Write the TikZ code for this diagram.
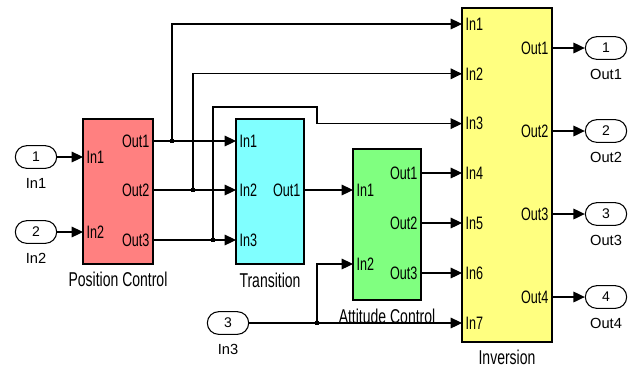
\documentclass[tikz,border=0pt]{standalone}
\usepackage{fontspec}
\setmainfont{Liberation Sans}
\newfontfamily\narrowsf[FakeStretch=0.7]{Liberation Sans}
\usetikzlibrary{arrows.meta, fit}
\definecolor{blkred}{HTML}{FF8080}
\definecolor{blkcyan}{HTML}{80FFFF}
\definecolor{blkgreen}{HTML}{80FF80}
\definecolor{blkyellow}{HTML}{FFFF80}

\begin{document}
\begin{tikzpicture}[
    x=0.75pt, y=-0.75pt,
    block/.style={draw, line width=2pt, inner sep=0pt},
    port/.style={draw, line width=0.8pt, minimum width=31pt, minimum height=17pt,
        rounded corners=8.5pt, inner sep=0pt, font=\fontsize{10.5}{12}\selectfont},
    sig/.style={line width=0.8pt, -{Triangle[length=8.5pt, width=8pt]}},
    pinlabel/.style={font=\narrowsf\fontsize{13.5}{15}\selectfont, inner sep=2.5pt},
    blocktitle/.style={font=\narrowsf\fontsize{15}{17}\selectfont, anchor=north},
    plabel/.style={font=\fontsize{11}{12}\selectfont, anchor=north},
    junction/.style={fill, inner sep=0pt, minimum size=3pt},
]
    \useasboundingbox (0,0) rectangle (635,369);

    % blocks
    \node[block, fill=blkred, fit={(83,119) (153,264)}] (pc) {};
    \node[block, fill=blkcyan, fit={(236,119) (304,264)}] (tr) {};
    \node[block, fill=blkgreen, fit={(353,149) (421,300)}] (ac) {};
    \node[block, fill=blkyellow, fit={(462,8) (552,342)}] (inv) {};

    \node[blocktitle] (pc-t) at ([yshift=-1.5pt]pc.south) {Position Control};
    \node[blocktitle] (tr-t) at ([yshift=-2pt]tr.south) {Transition};
    \node[blocktitle] (ac-t) at ([yshift=-2.5pt]ac.south) {Attitude Control};
    \node[blocktitle] (inv-t) at ([yshift=-1.5pt]inv.south) {Inversion};

    % block pins
    \foreach \i/\y in {1/157, 2/232} {
        \coordinate (pc-i\i) at (83,\y);
        \node[pinlabel, anchor=west] (pc-li\i) at (pc-i\i) {In\i};
    }
    \foreach \i/\y in {1/141, 2/190, 3/240} {
        \coordinate (pc-o\i) at (153,\y);
        \node[pinlabel, anchor=east] (pc-lo\i) at (pc-o\i) {Out\i};
        \coordinate (tr-i\i) at (236,\y);
        \node[pinlabel, anchor=west] (tr-li\i) at (tr-i\i) {In\i};
    }
    \coordinate (tr-o1) at (304,190);
    \node[pinlabel, anchor=east] (tr-lo1) at (tr-o1) {Out1};
    \foreach \i/\y in {1/190, 2/264} {
        \coordinate (ac-i\i) at (353,\y);
        \node[pinlabel, anchor=west] (ac-li\i) at (ac-i\i) {In\i};
    }
    \foreach \i/\y in {1/173, 2/223, 3/273} {
        \coordinate (ac-o\i) at (421,\y);
        \node[pinlabel, anchor=east] (ac-lo\i) at (ac-o\i) {Out\i};
    }
    \foreach \i/\y in {1/24, 2/73.8, 3/123.6, 4/173, 5/223, 6/273, 7/323} {
        \coordinate (inv-i\i) at (462,\y);
        \node[pinlabel, anchor=west] (inv-li\i) at (inv-i\i) {In\i};
    }

    % outports
    \foreach \i/\y in {1/48, 2/131, 3/214, 4/297} {
        \coordinate (inv-o\i) at (552,\y);
        \node[pinlabel, anchor=east] (inv-lo\i) at (inv-o\i) {Out\i};
        \node[port] (out\i) at (606,\y) {\i};
        \node[plabel] (out\i-l) at ([yshift=-3.5pt]out\i.south) {Out\i};
        \draw[sig] (inv-o\i) -- (out\i);
    }

    % inports
    \node[port] (in1) at (36,157) {1};
    \node[port] (in2) at (36,232) {2};
    \node[port] (in3) at (228,323) {3};
    \foreach \i in {1,2,3}
        \node[plabel] (in\i-l) at ([yshift=-3.5pt]in\i.south) {In\i};

    \draw[sig] (in1) -- (pc-i1);
    \draw[sig] (in2) -- (pc-i2);

    % position control -> transition, with taps to inversion
    \coordinate (j1) at (172,141);
    \coordinate (j2) at (193,190);
    \coordinate (j3) at (213,240);
    \coordinate (j4) at (317,323);
    \coordinate (b3) at (317,107);
    \foreach \i in {1,2,3}
        \draw[sig] (pc-o\i) -- (tr-i\i);
    \draw[sig] (j1) |- (inv-i1);
    \draw[sig] (j2) |- (inv-i2);
    \draw[sig] (j3) |- (b3) |- (inv-i3);

    % transition -> attitude control -> inversion
    \draw[sig] (tr-o1) -- (ac-i1);
    \draw[sig] (ac-o1) -- (inv-i4);
    \draw[sig] (ac-o2) -- (inv-i5);
    \draw[sig] (ac-o3) -- (inv-i6);
    \draw[sig] (in3) -- (inv-i7);
    \draw[sig] (j4) |- (ac-i2);

    \foreach \i in {1,2,3,4}
        \node[junction] (d\i) at (j\i) {};
\end{tikzpicture}
\end{document}
